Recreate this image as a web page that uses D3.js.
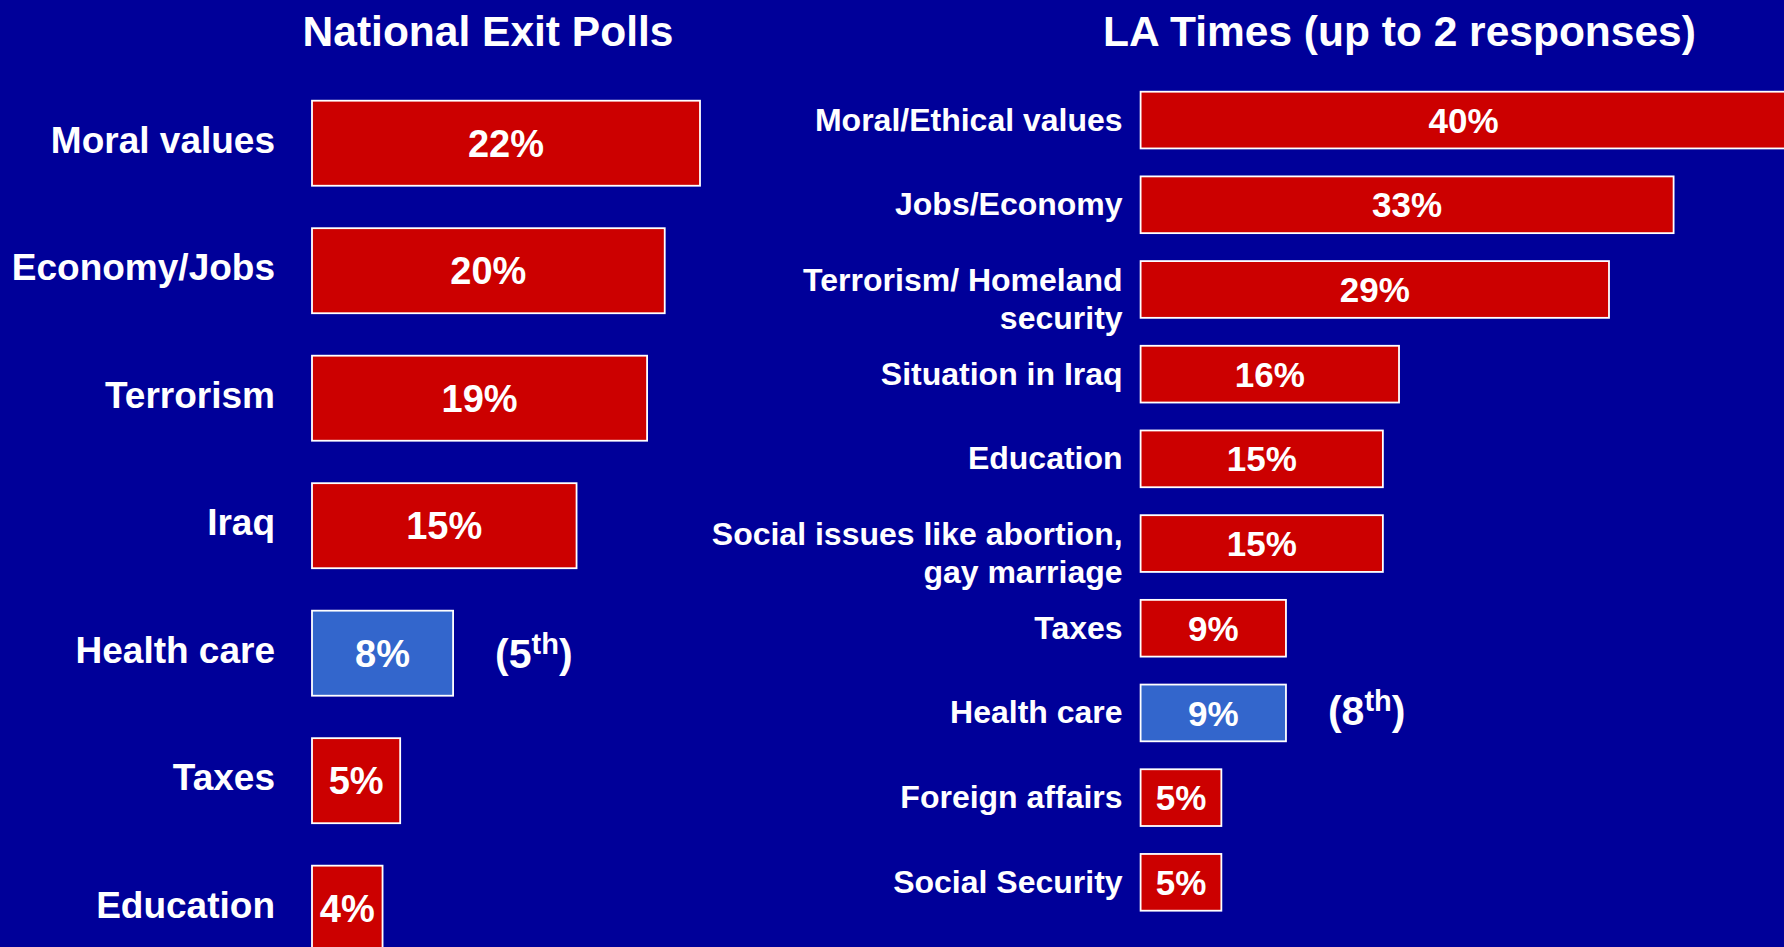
<!DOCTYPE html>
<html>
<head>
<meta charset="utf-8">
<script src="https://cdn.jsdelivr.net/npm/d3@7"></script>
<style>
  html, body { margin: 0; padding: 0; background: #000099; overflow: hidden; }
  svg { display: block; font-family: "Liberation Sans", Arial, sans-serif; font-weight: bold; }
</style>
</head>
<body>
<div id="chart"></div>
<script>
// data
const exitTitle = 'National Exit Polls';
const exitIssues = ['Moral values', 'Economy/Jobs', 'Terrorism', 'Iraq', 'Health care', 'Taxes', 'Education'];
const exitPct = [22, 20, 19, 15, 8, 5, 4];
const exitRank = '5';

const laTitle = 'LA Times (up to 2 responses)';
const laIssues = ['Moral/Ethical values', 'Jobs/Economy', 'Terrorism/ Homeland\nsecurity', 'Situation in Iraq',
    'Education', 'Social issues like abortion,\ngay marriage', 'Taxes', 'Health care', 'Foreign affairs', 'Social Security'];
const laPct = [40, 33, 29, 16, 15, 15, 9, 9, 5, 5];
const laRank = '8';

const highlight = 'Health care';

const W = 1784, H = 947;
const RED = '#cc0000', BLUE = '#3366cc';

const svg = d3.select('#chart')
    .append('svg')
    .attr('width', W)
    .attr('height', H);

svg.append('rect')
    .attr('width', W)
    .attr('height', H)
    .attr('fill', '#000099');

function drawPanel(cfg) {
    const data = cfg.issues.map((label, i) => ({ label, value: cfg.values[i] }));

    const x = d3.scaleLinear()
        .domain([0, cfg.refValue])
        .range(cfg.xRange);

    const y = d3.scaleBand()
        .domain(cfg.issues)
        .range(cfg.yRange)
        .paddingInner(cfg.pad)
        .paddingOuter(0);

    const g = svg.append('g');

    g.append('text')
        .attr('x', cfg.titleX)
        .attr('y', 45.5)
        .attr('text-anchor', 'middle')
        .attr('font-size', 42.5)
        .attr('fill', '#fff')
        .text(cfg.title);

    const rows = g.selectAll('g.row')
        .data(data)
        .enter()
        .append('g')
        .attr('class', 'row');

    rows.append('rect')
        .attr('x', x(0))
        .attr('y', d => y(d.label))
        .attr('width', d => x(d.value) - x(0))
        .attr('height', y.bandwidth())
        .attr('fill', d => d.label === highlight ? BLUE : RED)
        .attr('stroke', '#fff')
        .attr('stroke-width', 1.8);

    // value inside the bar
    rows.append('text')
        .attr('x', d => x(d.value / 2))
        .attr('y', d => y(d.label) + y.bandwidth() / 2)
        .attr('dy', cfg.valueSize * 0.36)
        .attr('text-anchor', 'middle')
        .attr('font-size', cfg.valueSize)
        .attr('fill', '#fff')
        .text(d => d.value + '%');

    // category label, may wrap on \n
    const labels = rows.append('text')
        .attr('x', x(0) - cfg.labelGap)
        .attr('y', d => y(d.label) + y.bandwidth() / 2)
        .attr('text-anchor', 'end')
        .attr('font-size', cfg.labelSize)
        .attr('fill', '#fff');

    labels.each(function (d) {
        const lines = d.label.split('\n');
        const t = d3.select(this);
        lines.forEach((line, i) => {
            t.append('tspan')
                .attr('x', x(0) - cfg.labelGap)
                .attr('dy', i === 0 ? cfg.labelDy - (lines.length - 1) * 9 : cfg.labelSize * 1.2)
                .text(line);
        });
    });

    // rank note next to the highlighted bar
    const hi = data.find(d => d.label === highlight);
    const note = g.append('text')
        .attr('x', x(hi.value) + 42)
        .attr('y', y(hi.label) + y.bandwidth() / 2 + cfg.noteDy)
        .attr('font-size', 41)
        .attr('fill', '#fff');
    note.append('tspan').text('(' + cfg.rank);
    note.append('tspan').attr('font-size', 29).attr('dy', -14).text('th');
    note.append('tspan').attr('dy', 14).text(')');
}

drawPanel({
    title: exitTitle,
    titleX: 488,
    issues: exitIssues,
    values: exitPct,
    rank: exitRank,
    refValue: 22,
    xRange: [312, 700],
    yRange: [100.7, 950.7],
    pad: 0.333,
    valueSize: 38,
    labelSize: 37,
    labelGap: 37,
    labelDy: 9.5,
    noteDy: 15
});

drawPanel({
    title: laTitle,
    titleX: 1399.5,
    issues: laIssues,
    values: laPct,
    rank: laRank,
    refValue: 33,
    xRange: [1140.6, 1673.6],
    yRange: [91.7, 910.7],
    pad: 0.33,
    valueSize: 35,
    labelSize: 32,
    labelGap: 18,
    labelDy: 10.5,
    noteDy: 12.5
});
</script>
</body>
</html>
